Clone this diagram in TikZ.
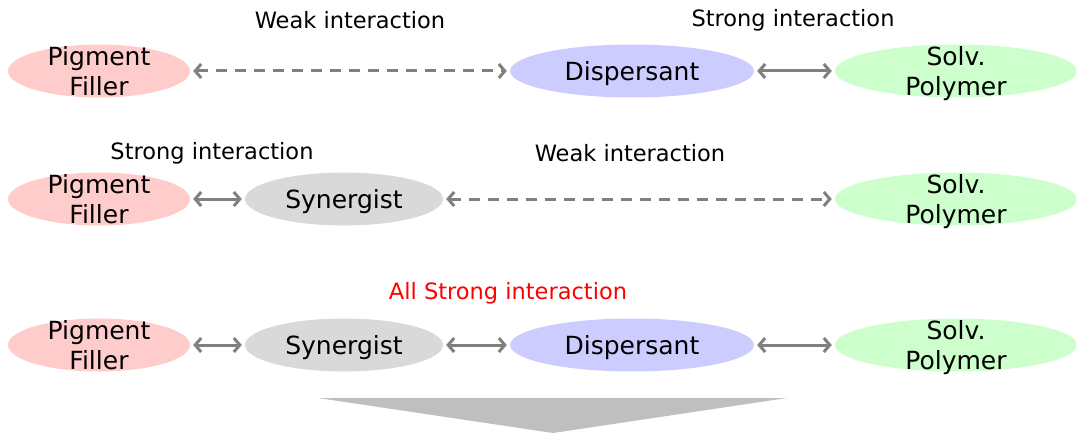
\documentclass[tikz,border=0pt]{standalone}
\usepackage{fontspec}
\setmainfont{DejaVu Sans}
\usetikzlibrary{arrows.meta,shapes.geometric}
\definecolor{pigm}{RGB}{255,204,204}
\definecolor{disp}{RGB}{204,204,255}
\definecolor{solv}{RGB}{204,255,204}
\definecolor{syne}{RGB}{217,217,217}
\definecolor{link}{RGB}{128,128,128}
\definecolor{down}{RGB}{191,191,191}
\tikzset{
  blob/.style={ellipse,inner xsep=0pt,inner ysep=-11pt,minimum height=53pt,
    align=center,text depth=0pt,font=\fontsize{25}{30}\selectfont},
  pigbox/.style={blob,fill=pigm,minimum width=182pt},
  dispbox/.style={blob,fill=disp,minimum width=244pt},
  solvbox/.style={blob,fill=solv,minimum width=242pt},
  synbox/.style={blob,fill=syne,minimum width=198pt},
  strong/.style={draw=link,line width=3pt,
    {Straight Barb[length=6pt,width=14pt]}-{Straight Barb[length=6pt,width=14pt]},
    shorten <=3pt,shorten >=3pt},
  weak/.style={strong,dash pattern=on 11pt off 8pt},
  lbl/.style={font=\fontsize{22.5}{26}\selectfont}
}
\begin{document}
\begin{tikzpicture}[x=1pt,y=-1pt]
  \useasboundingbox (0,0) rectangle (1076,433);
  % row 1
  \node[pigbox] (pig1) at (99,71) {Pigment\\Filler};
  \node[dispbox] (disp1) at (632,71) {Dispersant};
  \node[solvbox] (solv1) at (956,71) {Solv.\\Polymer};
  \draw[weak] (pig1.east) -- (disp1.west);
  \draw[strong] (disp1.east) -- (solv1.west);
  \node[lbl] (weak1) at (350,20) {Weak interaction};
  \node[lbl] (strong1) at (793,20) {Strong interaction};
  % row 2
  \node[pigbox] (pig2) at (99,199) {Pigment\\Filler};
  \node[synbox] (syn2) at (344,199) {Synergist};
  \node[solvbox] (solv2) at (956,199) {Solv.\\Polymer};
  \draw[strong] (pig2.east) -- (syn2.west);
  \draw[weak] (syn2.east) -- (solv2.west);
  \node[lbl] (strong2) at (212,153) {Strong interaction};
  \node[lbl] (weak2) at (630,153) {Weak interaction};
  % row 3
  \node[pigbox] (pig3) at (99,345) {Pigment\\Filler};
  \node[synbox] (syn3) at (344,345) {Synergist};
  \node[dispbox] (disp3) at (632,345) {Dispersant};
  \node[solvbox] (solv3) at (956,345) {Solv.\\Polymer};
  \draw[strong] (pig3.east) -- (syn3.west);
  \draw[strong] (syn3.east) -- (disp3.west);
  \draw[strong] (disp3.east) -- (solv3.west);
  \node[lbl,text=red] (all3) at (508,293) {All Strong interaction};
  % down arrow
  \fill[down] (318,398) -- (787,398) -- (553,433) -- cycle;
\end{tikzpicture}
\end{document}
